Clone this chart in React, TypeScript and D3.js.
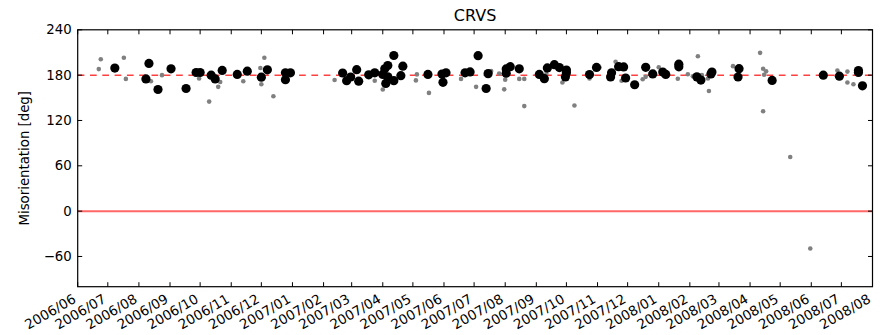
import React from "react";
import * as d3 from "d3";

const title = "CRVS";
const yLabel = "Misorientation [deg]";
const yTicks = [-60, 0, 60, 120, 180, 240];
const xStart = "2006-06-01";
const xEnd = "2008-08-01";
const refDashed = 180;
const refSolid = 0;

const blackDates = [
  "2006-07-08","2006-08-08","2006-08-11","2006-08-20","2006-09-02","2006-09-17","2006-09-27","2006-10-01",
  "2006-10-12","2006-10-16","2006-10-23","2006-11-07","2006-11-17","2006-12-01","2006-12-07","2006-12-25",
  "2006-12-30","2006-12-25","2007-02-20","2007-02-24","2007-02-28","2007-03-06","2007-03-08","2007-03-18",
  "2007-03-24","2007-04-01","2007-04-03","2007-04-06","2007-04-04","2007-04-06","2007-04-12","2007-04-12",
  "2007-04-19","2007-04-21","2007-05-16","2007-05-31","2007-05-30","2007-06-03","2007-06-22","2007-06-27",
  "2007-07-05","2007-07-13","2007-07-15","2007-08-02","2007-08-06","2007-08-02","2007-08-15","2007-09-04",
  "2007-09-09","2007-09-12","2007-09-19","2007-09-24","2007-10-01","2007-09-30","2007-10-01","2007-10-24",
  "2007-10-31","2007-11-14","2007-11-15","2007-11-22","2007-11-27","2007-11-29","2007-12-08","2007-12-19",
  "2007-12-26","2008-01-05","2008-01-08","2008-01-21","2008-01-21","2008-02-08","2008-02-12","2008-02-22",
  "2008-02-23","2008-03-21","2008-03-20","2008-04-23","2008-06-13","2008-06-29","2008-07-18","2008-07-18",
  "2008-07-22",
];
const blackValues = [
  189.3,175,195.5,161,188.3,162.3,183.5,183.5,
  180,175,186.2,181,185.3,177.3,187,183,
  183,174,182.8,172.6,177.5,187.2,172,180.4,
  183,181,188.3,192.6,169,177.7,206,172.7,
  179.3,191.8,181,170.5,181.5,183,183,184.2,
  205.8,162.3,182,188.2,191.2,182.5,188.3,181,
  175.3,189.5,193.8,190,186.8,177.7,183,180.8,
  190.2,177.5,183,191.2,190.8,176.2,167.3,190.4,
  181.6,184,181,194.5,191,177.7,173.5,181.5,
  184,188.5,177.5,173,180,178.6,186,183.5,
  165.8,
];

const grayDates = [
  "2006-06-22","2006-06-24","2006-07-17","2006-07-19","2006-08-13","2006-08-24","2006-09-30","2006-10-10",
  "2006-10-19","2006-10-21","2006-11-13","2006-11-30","2006-12-04","2006-12-01","2006-12-13","2007-02-12",
  "2007-03-24","2007-04-01","2007-05-04","2007-05-05","2007-05-17","2007-06-18","2007-07-03","2007-07-18",
  "2007-07-26","2007-08-01","2007-07-31","2007-08-15","2007-08-20","2007-08-20","2007-09-11","2007-09-27",
  "2007-10-09","2007-10-24","2007-11-03","2007-11-19","2007-11-25","2007-12-16","2007-12-19","2008-01-01",
  "2008-01-20","2008-01-30","2008-02-04","2008-02-09","2008-02-13","2008-02-19","2008-02-20","2008-02-24",
  "2008-03-15","2008-04-11","2008-04-14","2008-04-17","2008-04-15","2008-04-14","2008-05-11","2008-05-31",
  "2008-06-27","2008-07-07","2008-07-07","2008-07-13",
];
const grayValues = [
  188,201,203,175,172,180,175.5,145,
  164.5,171,172,189.5,203,168,152,173.5,
  172.5,161,173,181,156.5,175,164.5,185.5,
  182,174,161.2,175,175,139,181.7,170.3,
  139.8,175.6,190,197.8,172.6,174.5,177.7,190.4,
  175.3,181.2,178.6,205,180,175.6,159,185.4,
  191.9,209.5,188.5,185,180.5,132.2,71.6,-49.5,
  186,184.7,170.3,168,
];

const W = 889;
const H = 335;
const M = { left: 77.7, right: 872.5, top: 29.8, bottom: 286.7 };
const FONT = "'DejaVu Sans', sans-serif";

export default function App() {
  const parse = d3.utcParse("%Y-%m-%d");
  const x = d3
    .scaleUtc()
    .domain([parse(xStart) as Date, parse(xEnd) as Date])
    .range([M.left, M.right]);
  const y = d3.scaleLinear().domain([-100, 240]).range([M.bottom, M.top]);
  const months = d3.utcMonth.range(parse(xStart) as Date, d3.utcDay.offset(parse(xEnd) as Date, 1));
  const fmt = d3.utcFormat("%Y/%m");
  const tickLen = 4.5;

  const gray = grayDates.map((d, i) => ({ d: parse(d) as Date, v: grayValues[i] }));
  const black = blackDates.map((d, i) => ({ d: parse(d) as Date, v: blackValues[i] }));

  return (
    <svg
      width={W}
      height={H}
      style={{ position: "absolute", left: 0, top: 0, background: "#fff" }}
      fontFamily={FONT}
    >
      <rect x={0} y={0} width={W} height={H} fill="#fff" />
      <text x={(M.left + M.right) / 2} y={21} textAnchor="middle" fontSize={16}>
        {title}
      </text>
      <line
        x1={M.left}
        x2={M.right}
        y1={y(refSolid)}
        y2={y(refSolid)}
        stroke="#ff0000"
        strokeOpacity={0.6}
        strokeWidth={2}
      />
      <line
        x1={M.left}
        x2={M.right}
        y1={y(refDashed)}
        y2={y(refDashed)}
        stroke="#ff0000"
        strokeOpacity={0.75}
        strokeWidth={1.5}
        strokeDasharray="6.7,5.6"
      />
      {gray.map((p, i) => (
        <circle key={"g" + i} cx={x(p.d)} cy={y(p.v)} r={2.3} fill="#808080" />
      ))}
      {black.map((p, i) => (
        <circle key={"b" + i} cx={x(p.d)} cy={y(p.v)} r={4.6} fill="#000" />
      ))}
      <rect
        x={M.left}
        y={M.top}
        width={M.right - M.left}
        height={M.bottom - M.top}
        fill="none"
        stroke="#000"
        strokeWidth={1.2}
      />
      {yTicks.map((t) => (
        <g key={"y" + t}>
          <line x1={M.left} x2={M.left + tickLen} y1={y(t)} y2={y(t)} stroke="#000" />
          <line x1={M.right} x2={M.right - tickLen} y1={y(t)} y2={y(t)} stroke="#000" />
          <text
            x={M.left - 6}
            y={y(t)}
            textAnchor="end"
            dominantBaseline="central"
            fontSize={13.3}
          >
            {t < 0 ? "\u2212" + Math.abs(t) : String(t)}
          </text>
        </g>
      ))}
      {months.map((m, i) => {
        const xx = x(m);
        return (
          <g key={"x" + i}>
            <line x1={xx} x2={xx} y1={M.bottom} y2={M.bottom - tickLen} stroke="#000" />
            <line x1={xx} x2={xx} y1={M.top} y2={M.top + tickLen} stroke="#000" />
            <text
              transform={`translate(${xx - 6},${M.bottom + 6}) rotate(-30)`}
              textAnchor="end"
              dominantBaseline="hanging"
              fontSize={13.5}
            >
              {fmt(m)}
            </text>
          </g>
        );
      })}
      <text
        transform={`translate(${29},${(M.top + M.bottom) / 2}) rotate(-90)`}
        textAnchor="middle"
        fontSize={13.3}
      >
        {yLabel}
      </text>
    </svg>
  );
}
